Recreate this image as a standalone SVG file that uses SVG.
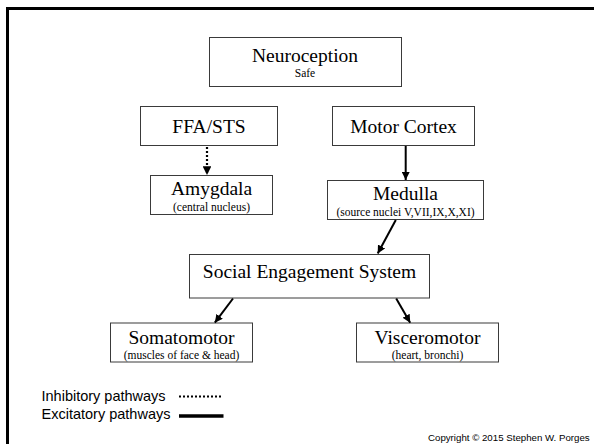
<svg xmlns="http://www.w3.org/2000/svg" width="594" height="444" viewBox="0 0 594 444">
  <style>
    .box { fill: #ffffff; stroke: #3a3a3a; stroke-width: 1; }
    .title { font-family: "Liberation Serif", "Times New Roman", serif; font-size: 19.5px; fill: #000; text-anchor: middle; }
    .sub { font-family: "Liberation Serif", "Times New Roman", serif; font-size: 11.5px; fill: #000; text-anchor: middle; }
    .legend { font-family: "Liberation Sans", Arial, sans-serif; font-size: 14.5px; fill: #000; }
    .copy { font-family: "Liberation Sans", Arial, sans-serif; font-size: 9.7px; fill: #000; }
    .solid { fill: none; stroke: #000; stroke-width: 2; }
    .dotted { fill: none; stroke: #000; stroke-width: 2.2; stroke-dasharray: 2 2; }
  </style>
  <defs>
    <marker id="head" viewBox="0 0 10 10" refX="10" refY="5" markerWidth="4" markerHeight="4" orient="auto" markerUnits="strokeWidth">
      <path d="M0,0 L10,5 L0,10 Z" fill="#000"/>
    </marker>
  </defs>

  <rect width="594" height="444" fill="#ffffff"/>
  <!-- slide frame -->
  <path d="M7.5,450 V8.5 H600" fill="none" stroke="#000" stroke-width="3"/>

  <g id="neuroception">
    <rect class="box" x="209.5" y="37.5" width="192" height="49"/>
    <text class="title" x="305" y="62">Neuroception</text>
    <text class="sub" x="305" y="77">Safe</text>
  </g>

  <g id="ffa-sts">
    <rect class="box" x="140.5" y="106.5" width="137" height="39"/>
    <text class="title" x="209" y="132.5">FFA/STS</text>
  </g>

  <g id="motor-cortex">
    <rect class="box" x="332.5" y="106.5" width="142" height="39"/>
    <text class="title" x="403.5" y="132.5">Motor Cortex</text>
  </g>

  <g id="amygdala">
    <rect class="box" x="150.5" y="175.5" width="122" height="39"/>
    <text class="title" x="211.5" y="195">Amygdala</text>
    <text class="sub" x="211.5" y="210.5">(central nucleus)</text>
  </g>

  <g id="medulla">
    <rect class="box" x="327.5" y="180.5" width="156" height="39"/>
    <text class="title" x="405.5" y="200">Medulla</text>
    <text class="sub" x="405.5" y="215.5">(source nuclei V,VII,IX,X,XI)</text>
  </g>

  <g id="social-engagement-system">
    <rect class="box" x="189.5" y="254.5" width="240" height="43.5"/>
    <text class="title" x="309.5" y="277.5">Social Engagement System</text>
  </g>

  <g id="somatomotor">
    <rect class="box" x="110.5" y="323" width="142" height="39"/>
    <text class="title" x="181.5" y="343.8">Somatomotor</text>
    <text class="sub" x="181.5" y="358.7">(muscles of face &amp; head)</text>
  </g>

  <g id="visceromotor">
    <rect class="box" x="356.5" y="323" width="142" height="39"/>
    <text class="title" x="427.5" y="343.8">Visceromotor</text>
    <text class="sub" x="427.5" y="358.7">(heart, bronchi)</text>
  </g>

  <g id="connectors">
    <line class="dotted" x1="207" y1="147" x2="207" y2="175" marker-end="url(#head)"/>
    <line class="solid" x1="405.7" y1="146" x2="405.7" y2="180" marker-end="url(#head)"/>
    <line class="solid" x1="395.8" y1="220" x2="377.7" y2="253.5" marker-end="url(#head)"/>
    <line class="solid" x1="233" y1="298.5" x2="214.8" y2="322.7" marker-end="url(#head)"/>
    <line class="solid" x1="396.2" y1="298.5" x2="410.2" y2="322.7" marker-end="url(#head)"/>
  </g>

  <g id="legend">
    <text class="legend" x="41.5" y="401">Inhibitory pathways</text>
    <line x1="179" y1="396.5" x2="221" y2="396.5" stroke="#000" stroke-width="2" stroke-dasharray="2 2"/>
    <text class="legend" x="41.5" y="419">Excitatory pathways</text>
    <line x1="179" y1="416" x2="223.5" y2="416" stroke="#000" stroke-width="3.5"/>
  </g>

  <text class="copy" x="428" y="440.5">Copyright © 2015 Stephen W. Porges</text>
</svg>
